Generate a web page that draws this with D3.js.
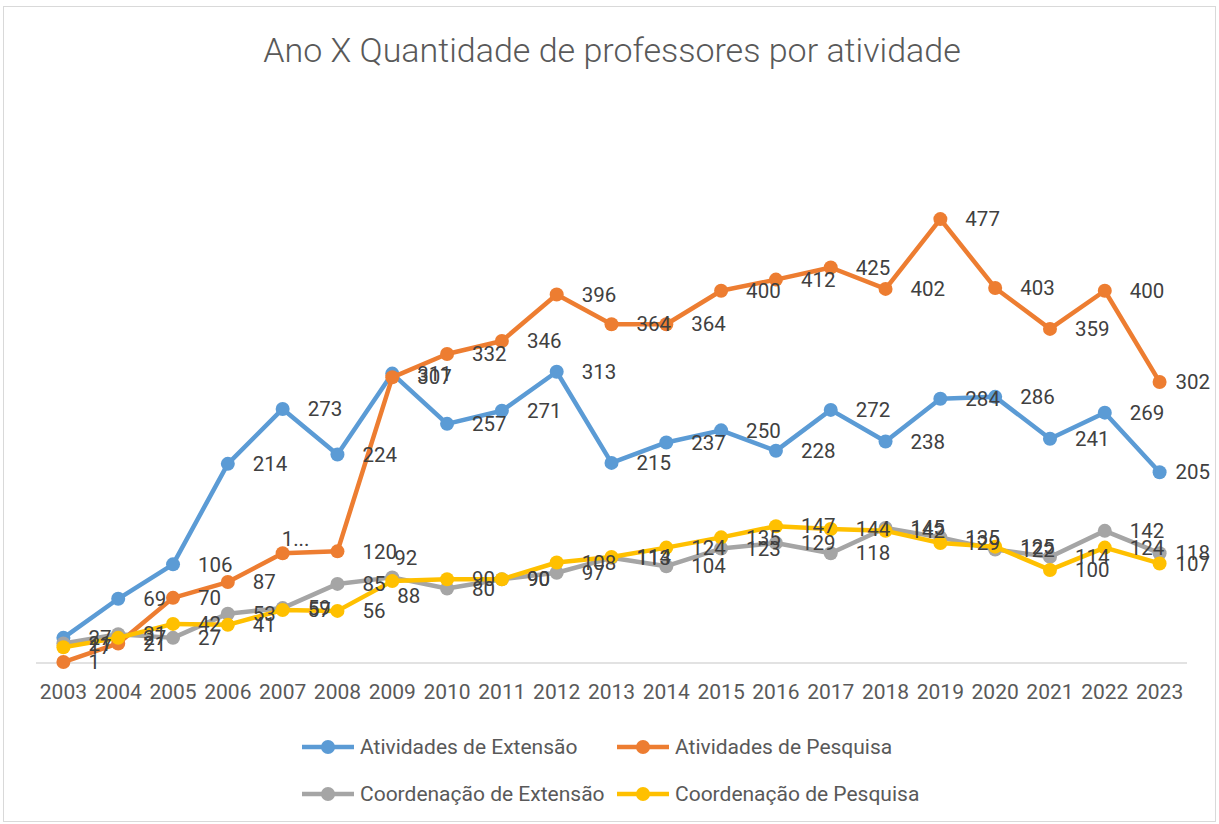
<!DOCTYPE html>
<html>
<head>
<meta charset="utf-8">
<script src="https://cdn.jsdelivr.net/npm/d3@7"></script>
<style>
  body { margin: 0; background: #fff; }
  text { font-family: Roboto, "Open Sans", sans-serif; }
</style>
</head>
<body>
<div id="chart"></div>
<script>
// data
var years = ["2003","2004","2005","2006","2007","2008","2009","2010","2011","2012","2013",
             "2014","2015","2016","2017","2018","2019","2020","2021","2022","2023"];
var seriesNames = ["Atividades de Extensão", "Atividades de Pesquisa",
                   "Coordenação de Extensão", "Coordenação de Pesquisa"];
var ativExtensao = [27, 69, 106, 214, 273, 224, 311, 257, 271, 313, 215, 237, 250, 228, 272, 238, 284, 286, 241, 269, 205];
var ativPesquisa = [1, 21, 70, 87, 118, 120, 307, 332, 346, 396, 364, 364, 400, 412, 425, 402, 477, 403, 359, 400, 302];
var coordExtensao = [21, 31, 27, 53, 59, 85, 92, 80, 90, 97, 113, 104, 123, 129, 118, 145, 135, 122, 114, 142, 118];
var coordPesquisa = [17, 27, 42, 41, 57, 56, 88, 90, 90, 108, 114, 124, 135, 147, 144, 142, 129, 125, 100, 124, 107];
var seriesColors = ["#5B9BD5", "#ED7D31", "#A5A5A5", "#FFC000"];

// labels that were shortened / moved by hand in the original
var labelText = { "1|2007": "1..." };
var labelNudge = { "1|2007": [-1, -14], "2|2009": [2, -20], "3|2009": [5, 15] };

var width = 1219, height = 824;
var svg = d3.select("#chart").append("svg")
    .attr("width", width)
    .attr("height", height);

svg.append("rect")
    .attr("x", 3.5).attr("y", 6.5)
    .attr("width", 1212).attr("height", 815)
    .attr("fill", "#fff")
    .attr("stroke", "#D9D9D9");

svg.append("text")
    .attr("x", 612).attr("y", 62)
    .attr("text-anchor", "middle")
    .attr("font-size", 34)
    .attr("font-weight", 300)
    .attr("fill", "#595959")
    .text("Ano X Quantidade de professores por atividade");

var x = d3.scaleBand().domain(years).range([36, 1187]);
var y = d3.scaleLinear().domain([0, 500]).range([663, 197.7]);
var cx = function(d) { return x(d) + x.bandwidth() / 2; };

svg.append("line")
    .attr("x1", 36).attr("x2", 1187)
    .attr("y1", y(0)).attr("y2", y(0))
    .attr("stroke", "#D9D9D9").attr("stroke-width", 1.5);

var xAxis = d3.axisBottom(x).tickSize(0).tickPadding(21);
var gx = svg.append("g").attr("transform", "translate(0," + y(0) + ")").call(xAxis);
gx.select(".domain").remove();
gx.selectAll("text")
    .attr("font-size", 21)
    .attr("fill", "#595959")
    .style("font-family", "Roboto, sans-serif");

var allSeries = [ativExtensao, ativPesquisa, coordExtensao, coordPesquisa];

var line = d3.line()
    .x(function(d, i) { return cx(years[i]); })
    .y(function(d) { return y(d); });

allSeries.forEach(function(vals, s) {
    var g = svg.append("g");
    g.append("path")
        .datum(vals)
        .attr("d", line)
        .attr("fill", "none")
        .attr("stroke", seriesColors[s])
        .attr("stroke-width", 4.5)
        .attr("stroke-linejoin", "round");
    g.selectAll("circle")
        .data(vals)
        .enter().append("circle")
        .attr("cx", function(d, i) { return cx(years[i]); })
        .attr("cy", function(d) { return y(d); })
        .attr("r", 7)
        .attr("fill", seriesColors[s]);
});

// data labels on top of everything
allSeries.forEach(function(vals, s) {
    svg.append("g").selectAll("text")
        .data(vals)
        .enter().append("text")
        .attr("x", function(d, i) {
            var n = labelNudge[s + "|" + years[i]];
            return cx(years[i]) + (n ? n[0] : 25);
        })
        .attr("y", function(d, i) {
            var n = labelNudge[s + "|" + years[i]];
            return y(d) + (n ? n[1] : 0);
        })
        .attr("dy", "0.35em")
        .attr("font-size", 20.5)
        .attr("fill", "#404040")
        .text(function(d, i) {
            var t = labelText[s + "|" + years[i]];
            return t ? t : d;
        })
        .each(function() {
            // keep labels inside the chart frame, like the original does
            var el = d3.select(this);
            var w = this.getComputedTextLength();
            var x0 = +el.attr("x");
            if (x0 + w > 1210) el.attr("x", 1210 - w);
        });
});

// legend
var legendPos = [[302, 747], [617, 747], [302, 794], [617, 794]];
seriesNames.forEach(function(name, s) {
    var lg = svg.append("g")
        .attr("transform", "translate(" + legendPos[s][0] + "," + legendPos[s][1] + ")");
    lg.append("line")
        .attr("x1", 0).attr("x2", 52)
        .attr("stroke", seriesColors[s])
        .attr("stroke-width", 4.5);
    lg.append("circle")
        .attr("cx", 26).attr("r", 7)
        .attr("fill", seriesColors[s]);
    lg.append("text")
        .attr("x", 58).attr("dy", "0.35em")
        .attr("font-size", 21)
        .attr("fill", "#595959")
        .text(name);
});
</script>
</body>
</html>
